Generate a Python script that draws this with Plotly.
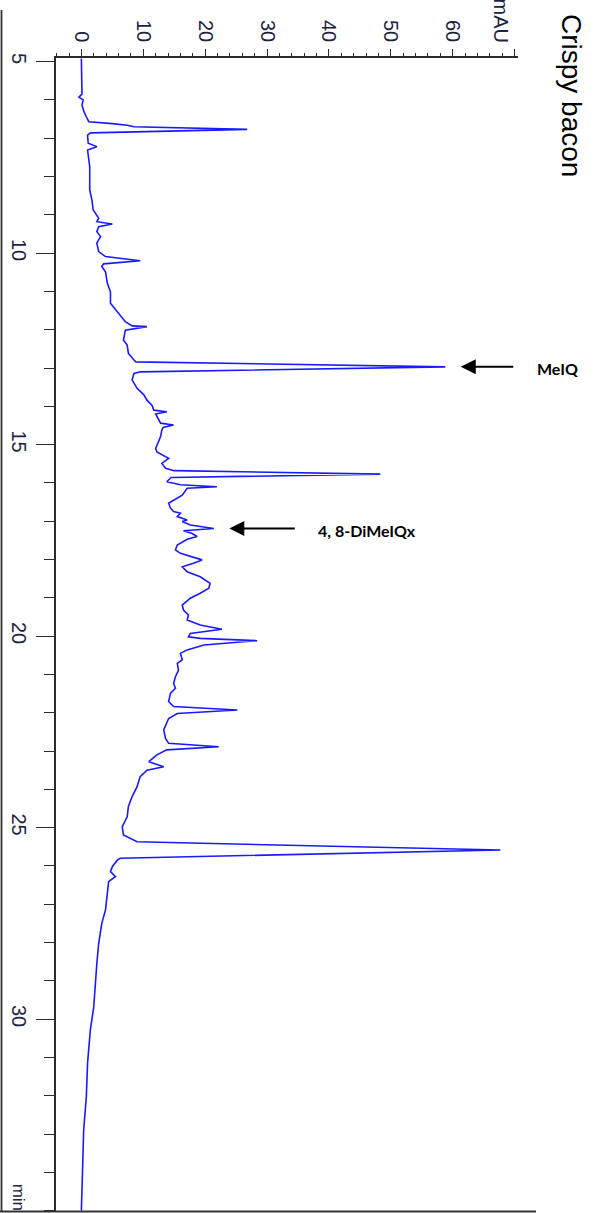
import plotly.graph_objects as go

# Chromatogram of crispy bacon extract: retention time (min) vs absorbance (mAU)
time_min = [
    4.92, 5.50, 5.85, 5.93, 6.00, 6.13, 6.30, 6.44, 6.57, 6.62, 6.66, 6.70, 6.77, 6.86,
    6.92, 7.13, 7.22, 7.31, 7.74, 8.35, 8.61, 8.87, 9.09, 9.18, 9.24, 9.31, 9.44, 9.57,
    9.74, 9.96, 10.09, 10.20, 10.28, 10.35, 10.49, 10.79, 11.01, 11.31, 11.53, 11.79,
    11.90, 11.92, 12.01, 12.27, 12.40, 12.62, 12.79, 12.84, 12.97, 13.10, 13.14, 13.31,
    13.53, 13.70, 13.84, 13.97, 14.10, 14.14, 14.20, 14.27, 14.44, 14.49, 14.55, 14.62,
    14.79, 15.10, 15.19, 15.36, 15.49, 15.62, 15.68, 15.77, 15.86, 15.97, 16.05, 16.10,
    16.14, 16.32, 16.53, 16.66, 16.75, 16.79, 16.88, 16.97, 17.01, 17.10, 17.19, 17.25,
    17.32, 17.40, 17.47, 17.62, 17.75, 17.84, 17.93, 18.01, 18.10, 18.19, 18.32, 18.45,
    18.62, 18.75, 18.88, 19.01, 19.19, 19.32, 19.45, 19.58, 19.71, 19.82, 19.93, 20.02,
    20.06, 20.12, 20.23, 20.28, 20.36, 20.45, 20.62, 20.71, 20.89, 21.06, 21.23, 21.36,
    21.49, 21.71, 21.84, 21.93, 22.02, 22.15, 22.45, 22.67, 22.80, 22.89, 22.97, 23.10,
    23.28, 23.41, 23.50, 23.67, 23.93, 24.19, 24.45, 24.72, 24.98, 25.19, 25.37, 25.585,
    25.80, 25.85, 26.02, 26.15, 26.28, 26.41, 26.72, 27.15, 27.50, 27.67, 28.02, 28.54,
    28.98, 29.68, 30.28, 31.15, 32.03, 32.90, 33.90, 35.00,
]
signal_mau = [
    0.0, 0.05, 0.1, -0.4, 0.3, 0.1, 0.4, 0.8, 1.2, 5.0, 7.4, 8.5, 26.8, 1.5,
    1.0, 1.1, 2.5, 1.0, 1.35, 1.35, 1.7, 1.9, 2.8, 2.5, 5.0, 2.8, 2.5, 3.1,
    2.5, 2.8, 3.9, 9.5, 3.6, 3.3, 3.9, 4.2, 4.7, 4.7, 5.8, 7.1,
    8.2, 10.6, 7.1, 6.8, 7.4, 7.6, 8.5, 8.8, 58.8, 9.5, 8.5, 8.2,
    9.0, 10.1, 10.6, 11.4, 11.7, 13.8, 12.0, 12.2, 12.8, 14.9, 13.2, 13.0,
    12.8, 12.0, 12.2, 14.1, 13.0, 13.6, 15.0, 48.3, 14.5, 13.8, 16.0, 21.9,
    17.1, 16.3, 14.1, 14.4, 14.9, 16.0, 15.5, 17.1, 16.3, 17.6, 21.4, 16.5,
    17.9, 18.7, 17.1, 15.5, 15.2, 16.0, 17.9, 19.5, 18.1, 16.3, 17.1, 19.2,
    20.8, 20.6, 19.2, 17.6, 16.3, 16.5, 17.3, 17.1, 19.2, 22.7, 17.6, 17.3,
    19.2, 28.4, 19.8, 18.7, 17.1, 16.0, 16.3, 15.5, 15.7, 15.2, 14.9, 15.2,
    14.4, 14.1, 14.9, 25.2, 15.5, 14.1, 13.3, 13.6, 14.1, 22.2, 13.8, 12.2,
    10.9, 13.3, 10.6, 9.5, 9.0, 8.2, 7.6, 7.4, 6.6, 6.8, 9.0, 67.7,
    6.3, 5.8, 5.0, 4.7, 5.5, 4.4, 4.2, 3.9, 3.3, 3.1, 2.8, 2.5,
    2.3, 2.0, 1.45, 1.0, 0.8, 0.37, 0.2, 0.0,
]

time_ticks = [5, 10, 15, 20, 25, 30]
time_tick_text = ["5", "10", "15", "20", "25", "30"]
mau_ticks = [0, 10, 20, 30, 40, 50, 60, 70]
mau_tick_text = ["0", "10", "20", "30", "40", "50", "60", ""]

# Unit captions sit in the tick-label rows of each axis
mau_unit_pos, mau_unit_text = [67.7], ["mAU"]
time_unit_pos, time_unit_text = [34.72], ["min"]

# Identified compounds: name, retention time (min), peak height (mAU)
compound_names = ["MeIQ", "4, 8-DiMeIQx"]
compound_times = [12.97, 17.19]
compound_heights = [58.8, 21.4]

W, H = 597, 1213
PLOT_L, PLOT_R, PLOT_T, PLOT_B = 56, 518, 58, 1211
X_RANGE = [-4.1, 70.55]
Y_RANGE = [35.01, 4.906]


def paper_x(px):
    return (px - PLOT_L) / (PLOT_R - PLOT_L)


def paper_y(py):
    return (PLOT_B - py) / (PLOT_B - PLOT_T)


AXIS_COLOR = "#2b2b2b"
LABEL_COLOR = "#1c2340"
SANS = "Liberation Sans, Arial, sans-serif"
NARROW = "Liberation Sans Narrow, Arial Narrow, Liberation Sans, sans-serif"
LABEL_FONT = dict(family=NARROW, size=20, color=LABEL_COLOR)
HIDDEN = "rgba(0,0,0,0)"

fig = go.Figure()
fig.add_trace(go.Scatter(
    x=signal_mau, y=time_min, mode="lines",
    line=dict(color="#1a1aff", width=1.6),
    hoverinfo="skip", showlegend=False,
))
# Empty traces so the caption axes get drawn
fig.add_trace(go.Scatter(x=[None], y=[None], xaxis="x2", yaxis="y",
                         hoverinfo="skip", showlegend=False))
fig.add_trace(go.Scatter(x=[None], y=[None], xaxis="x", yaxis="y2",
                         hoverinfo="skip", showlegend=False))

fig.update_layout(
    width=W, height=H,
    margin=dict(l=PLOT_L, r=W - PLOT_R, t=PLOT_T, b=H - PLOT_B, pad=0, autoexpand=False),
    paper_bgcolor="white", plot_bgcolor="white",
    showlegend=False,
    xaxis=dict(
        side="top", range=X_RANGE, automargin=False,
        showgrid=False, zeroline=False,
        showline=True, linecolor=AXIS_COLOR, linewidth=1.5,
        ticks="outside", ticklen=7, tickwidth=1.3, tickcolor=AXIS_COLOR,
        tickmode="array", tickvals=mau_ticks, ticktext=mau_tick_text,
        tickangle=90, tickfont=LABEL_FONT,
        minor=dict(tickmode="linear", tick0=0, dtick=2, ticks="outside",
                   ticklen=3.5, tickwidth=1.2, tickcolor=AXIS_COLOR),
    ),
    xaxis2=dict(
        overlaying="x", side="top", anchor="y", range=X_RANGE, automargin=False,
        showgrid=False, zeroline=False, showline=False,
        ticks="outside", ticklen=7, tickcolor=HIDDEN,
        tickmode="array", tickvals=mau_unit_pos, ticktext=mau_unit_text,
        tickangle=90, tickfont=LABEL_FONT,
    ),
    yaxis=dict(
        range=Y_RANGE, automargin=False,
        showgrid=False, zeroline=False,
        showline=True, linecolor=AXIS_COLOR, linewidth=1.5,
        ticks="outside", ticklen=18, tickwidth=1.3, tickcolor=AXIS_COLOR,
        tickmode="array", tickvals=time_ticks, ticktext=time_tick_text,
        tickangle=90, tickfont=LABEL_FONT,
        minor=dict(tickmode="linear", tick0=0, dtick=1, ticks="outside",
                   ticklen=10, tickwidth=1.2, tickcolor=AXIS_COLOR),
    ),
    yaxis2=dict(
        overlaying="y", side="left", anchor="x", range=Y_RANGE, automargin=False,
        showgrid=False, zeroline=False, showline=False,
        ticks="outside", ticklen=22, tickcolor=HIDDEN,
        tickmode="array", tickvals=time_unit_pos, ticktext=time_unit_text,
        tickangle=90, tickfont=dict(family=NARROW, size=17, color=LABEL_COLOR),
    ),
)

# Outer frame: left edge and bottom edge
fig.add_shape(type="line", xref="paper", yref="paper",
              x0=paper_x(1.5), x1=paper_x(1.5), y0=paper_y(1211.5), y1=paper_y(10),
              line=dict(color="#333333", width=1.8))
fig.add_shape(type="line", xref="paper", yref="paper",
              x0=paper_x(0), x1=paper_x(536), y0=paper_y(1211.5), y1=paper_y(1211.5),
              line=dict(color="#333333", width=1.8))

annotations = [
    dict(text="Crispy bacon", xref="paper", yref="paper",
         x=paper_x(572), y=paper_y(95), textangle=90, showarrow=False,
         xanchor="center", yanchor="middle",
         font=dict(family=SANS, size=28, color="black")),
]

ARROW_GAP = 2.5
tail_offsets = [54, 67]
for name, t, h, off in zip(compound_names, compound_times, compound_heights, tail_offsets):
    annotations.append(dict(
        x=h + ARROW_GAP, y=t, xref="x", yref="y", text="",
        showarrow=True, axref="pixel", ayref="pixel", ax=off, ay=0,
        arrowhead=2, arrowsize=1.5, arrowwidth=2, arrowcolor="black", standoff=0,
    ))
    annotations.append(dict(
        x=h + ARROW_GAP, y=t, xref="x", yref="y", text=name,
        showarrow=False, xanchor="left", yanchor="middle",
        xshift=off + 20, yshift=-2,
        font=dict(family="Lato, sans-serif", size=16, color="black", weight="bold"),
    ))

fig.update_layout(annotations=annotations)

fig.write_html("out.html")
